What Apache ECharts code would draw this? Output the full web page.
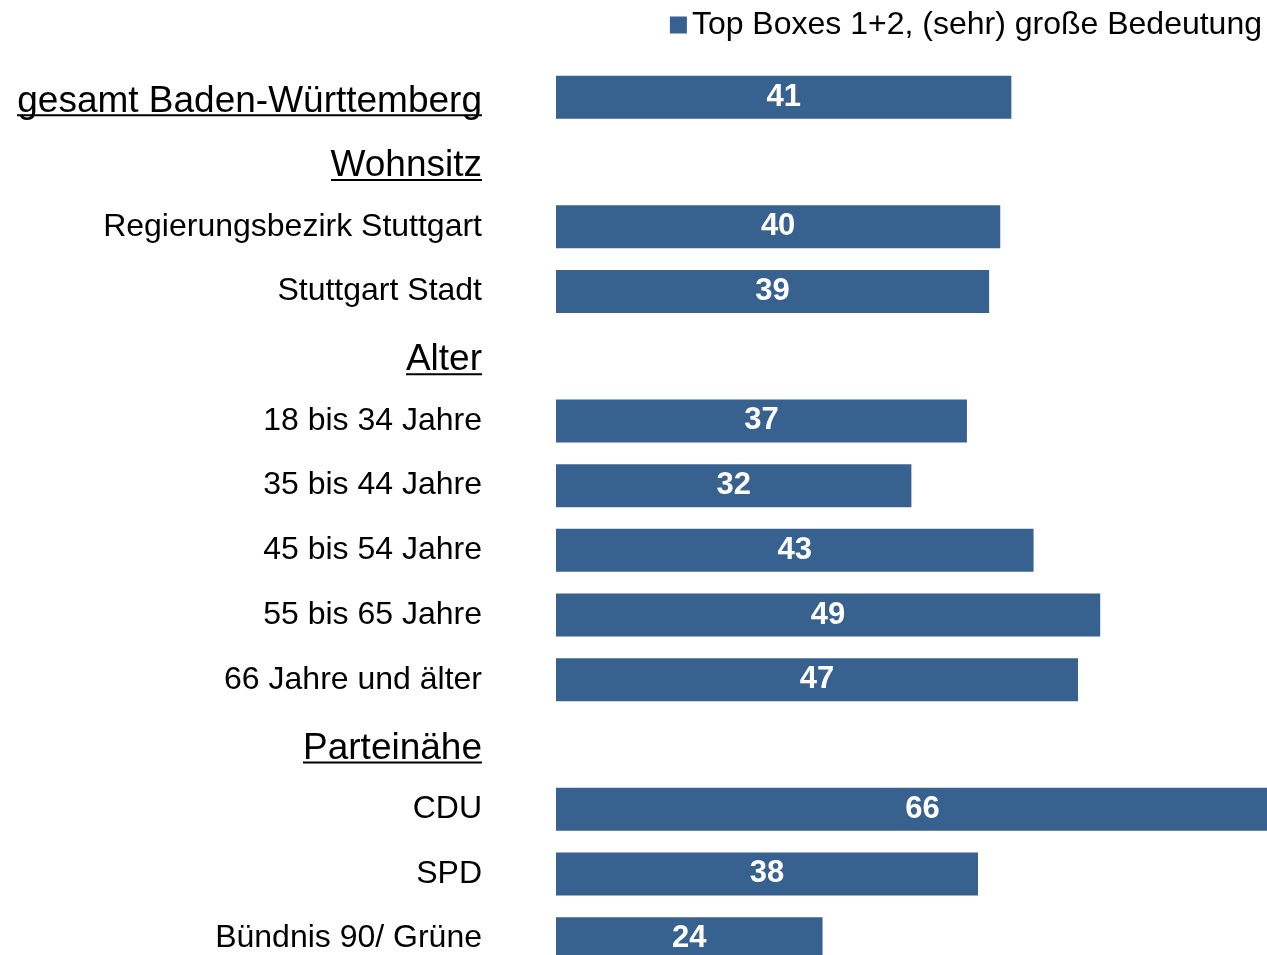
<!DOCTYPE html>
<html>
<head>
<meta charset="utf-8">
<script src="https://cdn.jsdelivr.net/npm/echarts@6/dist/echarts.min.js"></script>
<style>
  html, body { margin: 0; padding: 0; background: #fff; }
  #chart { width: 1267px; height: 955px; }
</style>
</head>
<body>
<div id="chart"></div>
<script>
  // Zeilen (Überschriften haben keinen Balken)
  var categories = [
    'gesamt Baden-Württemberg',
    'Wohnsitz',
    'Regierungsbezirk Stuttgart',
    'Stuttgart Stadt',
    'Alter',
    '18 bis 34 Jahre',
    '35 bis 44 Jahre',
    '45 bis 54 Jahre',
    '55 bis 65 Jahre',
    '66 Jahre und älter',
    'Parteinähe',
    'CDU',
    'SPD',
    'Bündnis 90/ Grüne'
  ];
  var headers = ['gesamt Baden-Württemberg', 'Wohnsitz', 'Alter', 'Parteinähe'];
  var topBoxes = [41, null, 40, 39, null, 37, 32, 43, 49, 47, null, 66, 38, 24];
  var seriesName = 'Top Boxes 1+2, (sehr) große Bedeutung';

  var fontFam = '"Liberation Sans", Arial, sans-serif';
  var headFont = 37;
  var labelFont = 32;

  // Breite der Überschriften messen, für die Unterstreichung
  var ctx = document.createElement('canvas').getContext('2d');
  ctx.font = headFont + 'px ' + fontFam;
  var rich = {
    h: { fontSize: headFont, lineHeight: 36, padding: [12, 0, 0, 0], color: '#000', fontFamily: fontFam },
    n: { fontSize: labelFont, color: '#000', fontFamily: fontFam }
  };
  headers.forEach(function (h, i) {
    rich['u' + i] = {
      width: Math.round(ctx.measureText(h).width),
      height: 2,
      lineHeight: 4,
      backgroundColor: '#000'
    };
  });

  var chart = echarts.init(document.getElementById('chart'));
  var option = {
    animation: false,
    legend: {
      data: [seriesName],
      right: 0,
      top: 4,
      icon: 'rect',
      itemWidth: 17,
      itemHeight: 17,
      textStyle: {
        fontSize: 32,
        color: '#000',
        fontFamily: fontFam
      }
    },
    grid: {
      left: 556,
      top: 65,
      width: 733,
      height: 906,
      containLabel: false,
      outerBoundsMode: 'none'
    },
    xAxis: {
      type: 'value',
      min: 0,
      max: 66,
      show: false
    },
    yAxis: {
      type: 'category',
      data: categories,
      inverse: true,
      axisLine: { show: false },
      axisTick: { show: false },
      splitLine: { show: false },
      axisLabel: {
        margin: 74,
        align: 'right',
        formatter: function (v) {
          var i = headers.indexOf(v);
          if (i >= 0) return '{h|' + v + '}\n{u' + i + '|}';
          return '{n|' + v + '}';
        },
        rich: rich
      }
    },
    series: [{
      name: seriesName,
      type: 'bar',
      data: topBoxes,
      barWidth: 43,
      itemStyle: { color: '#37618F' },
      label: {
        show: true,
        position: 'inside',
        color: '#fff',
        fontWeight: 'bold',
        fontSize: 31,
        fontFamily: '"Liberation Sans Narrow", ' + fontFam
      }
    }]
  };
  chart.setOption(option);
</script>
</body>
</html>
